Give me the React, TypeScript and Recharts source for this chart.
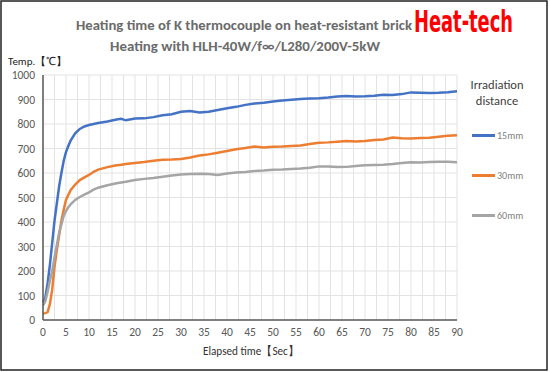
import { LineChart, Line, XAxis, YAxis, CartesianGrid } from 'recharts';

// elapsed time [sec]
const times = [0, 0.5, 1, 1.5, 2, 2.5, 3, 3.5, 4, 4.5, 5, 5.5, 6, 7, 8, 9, 10, 11, 12, 14, 16, 17, 18,
  20, 22, 24, 26, 28, 30, 32, 34, 36, 38, 40, 42, 44, 46, 48, 50, 52, 54, 56, 58, 60, 62, 64, 66, 68,
  70, 72, 74, 76, 78, 80, 82, 84, 86, 88, 90];

// temperature [°C] per irradiation distance
const temp15 = [72, 90, 150, 225, 315, 405, 475, 545, 600, 650, 685, 710, 732, 762, 780, 790, 796, 800, 804,
  810, 818, 821, 815, 822, 823, 828, 836, 840, 850, 853, 847, 850, 857, 864, 870, 878, 884, 887, 892, 896,
  899, 902, 904, 905, 908, 912, 914, 912, 913, 915, 919, 918, 922, 929, 928, 927, 928, 930, 934];
const temp30 = [27, 28, 32, 65, 125, 217, 285, 345, 405, 450, 490, 510, 530, 553, 571, 582, 592, 605, 614,
  624, 632, 634, 637, 641, 645, 650, 654, 655, 657, 663, 671, 676, 683, 690, 697, 702, 708, 704, 707, 708,
  710, 712, 718, 723, 725, 728, 731, 729, 731, 735, 737, 745, 742, 741, 743, 744, 748, 752, 754];
const temp60 = [60, 75, 115, 160, 200, 255, 305, 355, 390, 425, 445, 460, 472, 490, 502, 512, 521, 532, 540,
  550, 558, 561, 564, 571, 576, 580, 585, 590, 594, 596, 597, 596, 592, 598, 602, 604, 608, 610, 613, 614,
  616, 618, 621, 627, 627, 624, 625, 629, 632, 633, 634, 637, 641, 644, 643, 645, 646, 646, 644];

const xLabels = [0, 5, 10, 15, 20, 25, 30, 35, 40, 45, 50, 55, 60, 65, 70, 75, 80, 85, 90];
const yTicks = [0, 100, 200, 300, 400, 500, 600, 700, 800, 900, 1000];

const series = [
  { key: 'd15', name: '15mm', color: '#4472C4' },
  { key: 'd30', name: '30mm', color: '#ED7D31' },
  { key: 'd60', name: '60mm', color: '#A5A5A5' },
];

const data = times.map((t, i) => ({ t, d15: temp15[i], d30: temp30[i], d60: temp60[i] }));

// grid every 2.5 sec, labels every 5 sec
const xTicks = xLabels.flatMap((v) => (v < 90 ? [v, v + 2.5] : [v]));

const font = 'Calibri, Carlito, "Liberation Sans", Arial, sans-serif';

// legend drawn outside recharts so it doesn't eat into the plot area
const LegendBox = () => (
  <div style={{ position: 'absolute', left: 457, top: 77, width: 80, fontFamily: font }}>
    <div style={{ textAlign: 'center', fontSize: 12.5, color: '#404040', lineHeight: '16px' }}>
      Irradiation
      <br />
      distance
    </div>
    {series.map((s, i) => (
      <div
        key={s.key}
        style={{ display: 'flex', alignItems: 'center', marginTop: i === 0 ? 21 : 30, height: 10 }}
      >
        <div style={{ marginLeft: 15, width: 23, height: 3, background: s.color }} />
        <span style={{ marginLeft: 2, fontSize: 10, color: '#7f7f7f' }}>{s.name}</span>
      </div>
    ))}
  </div>
);

const App = () => {
  return (
    <div style={{ position: 'absolute', left: 0, top: 0, width: 550, height: 372, background: '#fff' }}>
      <LineChart width={550} height={372} data={data} margin={{ top: 75, right: 93, left: 3, bottom: 22 }}>
        <CartesianGrid stroke="#e3e3e3" strokeWidth={1} />
        <XAxis
          dataKey="t"
          type="number"
          domain={[0, 90]}
          ticks={xTicks}
          interval={0}
          tickFormatter={(v: number) => (v % 5 === 0 ? String(v) : '')}
          tickLine={false}
          axisLine={{ stroke: '#595959', strokeWidth: 1.5 }}
          tick={{ fontSize: 11.5, fill: '#595959', fontFamily: font }}
          height={30}
        />
        <XAxis xAxisId="top" orientation="top" dataKey="t" type="number" domain={[0, 90]} height={0}
          tick={false} tickLine={false} axisLine={{ stroke: '#595959', strokeWidth: 1.5 }} />
        <YAxis
          type="number"
          domain={[0, 1000]}
          ticks={yTicks}
          interval={0}
          tickLine={false}
          axisLine={{ stroke: '#595959', strokeWidth: 1.5 }}
          tick={{ fontSize: 11.5, fill: '#595959', fontFamily: font }}
          width={40}
        />
        <YAxis yAxisId="right" orientation="right" domain={[0, 1000]} width={0}
          tick={false} tickLine={false} axisLine={{ stroke: '#595959', strokeWidth: 1.5 }} />
        {series.map((s) => (
          <Line
            key={s.key}
            type="linear"
            dataKey={s.key}
            name={s.name}
            stroke={s.color}
            strokeWidth={2.5}
            dot={false}
            isAnimationActive={false}
          />
        ))}
      </LineChart>
      <LegendBox />
      <svg width={550} height={372} style={{ position: 'absolute', left: 0, top: 0, pointerEvents: 'none' }}>
        <rect x={1} y={1} width={546} height={369} fill="none" stroke="#222" strokeWidth={1.5} />
        <text x={76} y={30} fontFamily={font} fontWeight="bold" fontSize={14} fill="#6b6b6b"
          textLength={336} lengthAdjust="spacingAndGlyphs">
          Heating time of K thermocouple on heat-resistant brick
        </text>
        <text x={110} y={51} fontFamily={font} fontWeight="bold" fontSize={14} fill="#6b6b6b"
          textLength={270} lengthAdjust="spacingAndGlyphs">
          Heating with HLH-40W/f∞/L280/200V-5kW
        </text>
        <text x={414} y={32} fontFamily='"Liberation Sans Narrow", "DejaVu Sans Condensed", sans-serif'
          fontWeight="bold" fontSize={31} fill="#ff0000" textLength={99} lengthAdjust="spacingAndGlyphs">
          Heat-tech
        </text>
        <text x={8} y={65} fontFamily={font} fontSize={11} fill="#222">
          Temp.【℃】
        </text>
        <text x={203} y={355} fontFamily={font} fontSize={12} fill="#333" textLength={96}
          lengthAdjust="spacingAndGlyphs">
          Elapsed time【Sec】
        </text>
      </svg>
    </div>
  );
};

export default App;
